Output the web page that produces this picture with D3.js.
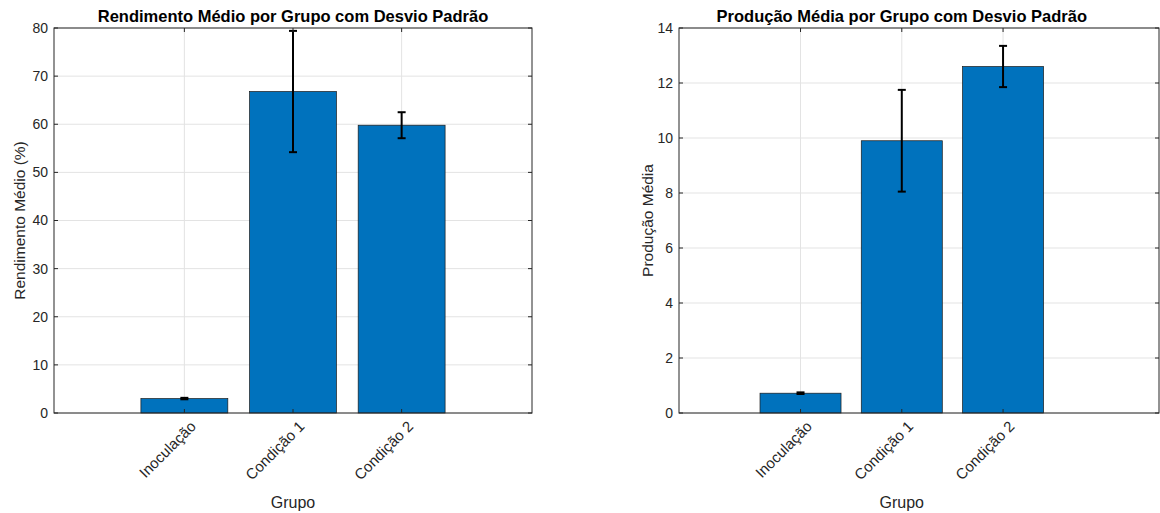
<!DOCTYPE html>
<html>
<head>
<meta charset="utf-8">
<script src="https://cdn.jsdelivr.net/npm/d3@7"></script>
<style>
  body { margin: 0; background: #fff; }
  svg { display: block; font-family: "Liberation Sans", Arial, sans-serif; }
</style>
</head>
<body>
<div id="chart-container"></div>
<script>
// Data
const groups = ["Inoculação", "Condição 1", "Condição 2"];
const rendimentoMedio = [3.0, 66.8, 59.8];
const rendimentoDesvio = [0.15, 12.6, 2.7];
const producaoMedia = [0.72, 9.9, 12.6];
const producaoDesvio = [0.03, 1.85, 0.75];
const rendimentoTicks = [0, 10, 20, 30, 40, 50, 60, 70, 80];
const producaoTicks = [0, 2, 4, 6, 8, 10, 12, 14];

const W = 1160, H = 513;
const barColor = "#0072BD";
const axisColor = "#262626";
const gridColor = "#e3e3e3";

const svg = d3.select("#chart-container")
  .append("svg")
  .attr("width", W)
  .attr("height", H);

// Draws one panel (bars + error bars + axes box)
const drawPanel = (cfg) => {
  const { left, right, top, bottom, xDomain, ticks, means, devs, title, yLabel, yLabelX } = cfg;

  const x = d3.scaleLinear().domain(xDomain).range([left, right]);
  const y = d3.scaleLinear().domain([ticks[0], ticks[ticks.length - 1]]).range([bottom, top]);
  const pos = groups.map((g, i) => i + 1);
  const barW = x(0.8) - x(0);

  const g = svg.append("g");

  // grid
  g.selectAll(".hgrid")
    .data(ticks)
    .enter().append("line")
    .attr("x1", left).attr("x2", right)
    .attr("y1", d => y(d)).attr("y2", d => y(d))
    .attr("stroke", gridColor).attr("stroke-width", 1);

  g.selectAll(".vgrid")
    .data(pos)
    .enter().append("line")
    .attr("x1", d => x(d)).attr("x2", d => x(d))
    .attr("y1", top).attr("y2", bottom)
    .attr("stroke", gridColor).attr("stroke-width", 1);

  // bars
  g.selectAll(".bar")
    .data(means)
    .enter().append("rect")
    .attr("x", (d, i) => x(pos[i]) - barW / 2)
    .attr("y", d => y(d))
    .attr("width", barW)
    .attr("height", d => y(0) - y(d))
    .attr("fill", barColor)
    .attr("stroke", "#1a1a1a")
    .attr("stroke-width", 0.7);

  // error bars
  const capW = 4;
  const err = g.selectAll(".err")
    .data(means)
    .enter().append("g")
    .attr("stroke", "#000")
    .attr("stroke-width", 2);

  err.append("line")
    .attr("x1", (d, i) => x(pos[i])).attr("x2", (d, i) => x(pos[i]))
    .attr("y1", (d, i) => y(d - devs[i])).attr("y2", (d, i) => y(d + devs[i]));
  err.append("line")
    .attr("x1", (d, i) => x(pos[i]) - capW).attr("x2", (d, i) => x(pos[i]) + capW)
    .attr("y1", (d, i) => y(d + devs[i])).attr("y2", (d, i) => y(d + devs[i]));
  err.append("line")
    .attr("x1", (d, i) => x(pos[i]) - capW).attr("x2", (d, i) => x(pos[i]) + capW)
    .attr("y1", (d, i) => y(d - devs[i])).attr("y2", (d, i) => y(d - devs[i]));

  // axes box
  g.append("rect")
    .attr("x", left).attr("y", top)
    .attr("width", right - left).attr("height", bottom - top)
    .attr("fill", "none")
    .attr("stroke", axisColor)
    .attr("stroke-width", 1);

  // inward ticks
  const tl = 4;
  g.selectAll(".ytl").data(ticks).enter().append("line")
    .attr("x1", left).attr("x2", left + tl)
    .attr("y1", d => y(d)).attr("y2", d => y(d))
    .attr("stroke", axisColor);
  g.selectAll(".ytr").data(ticks).enter().append("line")
    .attr("x1", right).attr("x2", right - tl)
    .attr("y1", d => y(d)).attr("y2", d => y(d))
    .attr("stroke", axisColor);
  g.selectAll(".xtb").data(pos).enter().append("line")
    .attr("x1", d => x(d)).attr("x2", d => x(d))
    .attr("y1", bottom).attr("y2", bottom - tl)
    .attr("stroke", axisColor);
  g.selectAll(".xtt").data(pos).enter().append("line")
    .attr("x1", d => x(d)).attr("x2", d => x(d))
    .attr("y1", top).attr("y2", top + tl)
    .attr("stroke", axisColor);

  // y tick labels
  g.selectAll(".ylab").data(ticks).enter().append("text")
    .attr("x", left - 6)
    .attr("y", d => y(d))
    .attr("dy", "0.35em")
    .attr("text-anchor", "end")
    .style("font-size", "14px")
    .style("fill", axisColor)
    .text(d => d);

  // x tick labels, rotated 45
  g.selectAll(".xlab").data(groups).enter().append("text")
    .attr("transform", (d, i) => `translate(${x(pos[i]) + 5},${bottom + 7}) rotate(-45)`)
    .attr("dy", "0.7em")
    .attr("text-anchor", "end")
    .style("font-size", "15px")
    .style("fill", axisColor)
    .text(d => d);

  // x label
  g.append("text")
    .attr("x", x(2))
    .attr("y", 508)
    .attr("text-anchor", "middle")
    .style("font-size", "16px")
    .style("fill", axisColor)
    .text("Grupo");

  // y label
  g.append("text")
    .attr("transform", `translate(${yLabelX},${(top + bottom) / 2}) rotate(-90)`)
    .attr("text-anchor", "middle")
    .style("font-size", "15.5px")
    .style("fill", axisColor)
    .text(yLabel);

  // title
  g.append("text")
    .attr("x", x(2))
    .attr("y", 22)
    .attr("text-anchor", "middle")
    .style("font-size", "16.5px")
    .style("font-weight", "bold")
    .style("fill", "#000")
    .text(title);
};

drawPanel({
  left: 54, right: 532, top: 28, bottom: 413,
  xDomain: [-0.2, 4.2],
  ticks: rendimentoTicks,
  means: rendimentoMedio,
  devs: rendimentoDesvio,
  title: "Rendimento Médio por Grupo com Desvio Padrão",
  yLabel: "Rendimento Médio (%)",
  yLabelX: 25
});

drawPanel({
  left: 679, right: 1159, top: 28, bottom: 413,
  xDomain: [-0.2, 4.54],
  ticks: producaoTicks,
  means: producaoMedia,
  devs: producaoDesvio,
  title: "Produção Média por Grupo com Desvio Padrão",
  yLabel: "Produção Média",
  yLabelX: 653
});
</script>
</body>
</html>
